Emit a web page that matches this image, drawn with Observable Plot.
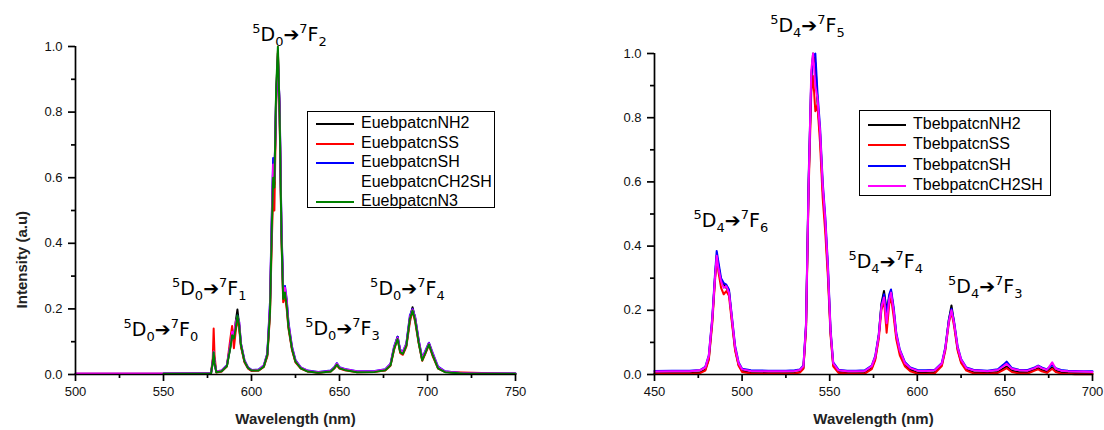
<!DOCTYPE html>
<html>
<head>
<meta charset="utf-8">
<script src="https://cdn.jsdelivr.net/npm/d3@7"></script>
<script src="https://cdn.jsdelivr.net/npm/@observablehq/plot@0.6"></script>
<style>
  html, body { margin: 0; padding: 0; background: #fff; }
  #wrap { position: relative; width: 1104px; height: 430px; display: flex; overflow: hidden; }
  .legend { position: absolute; border: 1.5px solid #000; background: #fff; font-family: "Liberation Sans", Arial, sans-serif; font-size: 16px; color: #000; }
  .legend .row { position: absolute; left: 0; height: 20px; width: 100%; }
  .legend .sw { position: absolute; left: 8px; width: 38px; top: 10px; height: 2px; }
  .legend .lab { position: absolute; left: 53px; top: 1px; white-space: nowrap; line-height: 18px; }
</style>
</head>
<body>
<div id="wrap"></div>
<script>
// ---------------- Eu panel data ----------------
const euWl = [500, 550, 570, 577, 578, 578.5, 579, 580, 583, 586, 588,
  589, 590, 591, 592, 593, 594, 596, 598, 600, 604, 607,
  609, 610.5, 611.5, 612.3, 613, 614, 615, 616, 617, 618, 619,
  620, 621, 623, 625, 628, 632, 638, 645, 647, 648.5, 650,
  653, 660, 670, 676, 679, 681, 683, 684.5, 686, 688, 690,
  691.5, 693, 695, 697, 699, 700.8, 703, 706, 710, 720, 750];
const euNH2 = [0.002, 0.002, 0.003, 0.004, 0.035, 0.062, 0.035, 0.008, 0.01, 0.026, 0.085,
  0.13, 0.11, 0.16, 0.198, 0.15, 0.09, 0.04, 0.02, 0.012, 0.013, 0.025,
  0.06, 0.2, 0.45, 0.63, 0.58, 0.86, 0.98, 0.8, 0.44, 0.24, 0.255,
  0.22, 0.15, 0.08, 0.04, 0.02, 0.01, 0.006, 0.01, 0.02, 0.032, 0.02,
  0.015, 0.008, 0.009, 0.014, 0.03, 0.08, 0.115, 0.07, 0.065, 0.09, 0.17,
  0.205, 0.17, 0.1, 0.045, 0.07, 0.095, 0.06, 0.02, 0.008, 0.003, 0.002];
const euSS = [null, 0.002, 0.002, 0.003, 0.05, 0.14, 0.06, 0.006, 0.009, 0.024, 0.11,
  0.148, 0.08, 0.13, 0.17, 0.14, 0.085, 0.037, 0.018, 0.011, 0.012, 0.023,
  0.055, 0.18, 0.4, 0.55, 0.5, 0.82, 0.985, 0.78, 0.42, 0.22, 0.24,
  0.2, 0.14, 0.075, 0.037, 0.018, 0.009, 0.005, 0.009, 0.018, 0.028, 0.018,
  0.013, 0.007, 0.008, 0.012, 0.027, 0.075, 0.11, 0.065, 0.06, 0.085, 0.16,
  0.195, 0.16, 0.095, 0.042, 0.066, 0.09, 0.055, 0.018, 0.008, 0.006, 0.002];
const euSH = [null, 0.003, 0.003, 0.004, 0.04, 0.066, 0.038, 0.009, 0.012, 0.028, 0.09,
  0.12, 0.12, 0.15, 0.18, 0.16, 0.095, 0.044, 0.022, 0.014, 0.015, 0.028,
  0.065, 0.22, 0.48, 0.66, 0.6, 0.84, 0.96, 0.82, 0.46, 0.26, 0.27,
  0.23, 0.16, 0.085, 0.044, 0.022, 0.012, 0.008, 0.012, 0.022, 0.035, 0.022,
  0.017, 0.01, 0.011, 0.016, 0.033, 0.085, 0.115, 0.075, 0.07, 0.095, 0.18,
  0.2, 0.175, 0.105, 0.05, 0.075, 0.097, 0.065, 0.024, 0.01, 0.004, 0.003];
const euCH2SH = [0.003, 0.003, 0.003, 0.004, 0.042, 0.07, 0.04, 0.009, 0.012, 0.027, 0.09,
  0.13, 0.12, 0.16, 0.175, 0.16, 0.095, 0.043, 0.021, 0.013, 0.014, 0.027,
  0.063, 0.21, 0.47, 0.64, 0.59, 0.85, 0.97, 0.81, 0.45, 0.25, 0.265,
  0.225, 0.155, 0.083, 0.042, 0.021, 0.011, 0.007, 0.011, 0.021, 0.033, 0.021,
  0.016, 0.009, 0.01, 0.015, 0.032, 0.083, 0.112, 0.073, 0.068, 0.093, 0.175,
  0.198, 0.172, 0.103, 0.048, 0.072, 0.095, 0.063, 0.022, 0.009, 0.004, 0.003];
const euN3 = [null, 0.002, 0.002, 0.003, 0.038, 0.068, 0.036, 0.007, 0.01, 0.025, 0.082,
  0.12, 0.11, 0.14, 0.18, 0.15, 0.09, 0.04, 0.02, 0.012, 0.012, 0.024,
  0.06, 0.19, 0.44, 0.6, 0.57, 0.87, 1.0, 0.79, 0.43, 0.23, 0.25,
  0.21, 0.145, 0.078, 0.039, 0.019, 0.009, 0.005, 0.009, 0.019, 0.03, 0.019,
  0.014, 0.007, 0.008, 0.013, 0.028, 0.078, 0.108, 0.068, 0.063, 0.088, 0.17,
  0.195, 0.165, 0.097, 0.043, 0.068, 0.092, 0.058, 0.019, 0.007, 0.003, 0.002];
const euNames = ["EuebpatcnNH2", "EuebpatcnSS", "EuebpatcnSH", "EuebpatcnCH2SH", "EuebpatcnN3"];
const euColors = ["#000000", "#ff0000", "#0000ff", "#ff00ff", "#008000"];
const euLegendSwatch = [true, true, true, false, true];
const euLabels = ["5D0➔7F0", "5D0➔7F1", "5D0➔7F2", "5D0➔7F3", "5D0➔7F4"];
const euLabelX = [548.5, 576, 621.6, 651.7, 688.6];
const euLabelY = [0.137, 0.262, 1.034, 0.14, 0.262];
const euXTicks = [500, 550, 600, 650, 700, 750];
const euXMinor = [525, 575, 625, 675, 725];

// ---------------- Tb panel data ----------------
const tbWl = [450, 460, 470, 476, 479, 481, 483, 484.5, 485.5, 486.5,
  488, 489.5, 491, 492.5, 494, 496, 498, 500, 505, 515,
  525, 530, 533, 535, 536.5, 538, 539.5, 540.5, 541.8, 543,
  544.5, 546, 547.5, 549, 550.5, 552, 555, 560, 565, 570,
  574, 576, 578, 579.5, 581, 582.5, 584, 585, 586.5, 588,
  590, 593, 596, 600, 605, 610, 614, 616, 618, 619.5,
  621, 623, 625, 628, 632, 640, 646, 649, 651, 654,
  658, 663, 667, 669, 671, 674, 677, 679, 682, 686,
  690, 695, 700];
const tbNH2 = [0.004, 0.004, 0.004, 0.006, 0.015, 0.05, 0.17, 0.3, 0.37, 0.34,
  0.29, 0.28, 0.27, 0.26, 0.18, 0.08, 0.03, 0.012, 0.005, 0.004,
  0.004, 0.005, 0.008, 0.02, 0.15, 0.6, 0.92, 1.0, 0.97, 0.85,
  0.75, 0.58, 0.47, 0.32, 0.13, 0.03, 0.008, 0.005, 0.004, 0.005,
  0.02, 0.05, 0.12, 0.22, 0.26, 0.2, 0.24, 0.26, 0.2, 0.12,
  0.07, 0.03, 0.015, 0.006, 0.005, 0.007, 0.03, 0.08, 0.17, 0.215,
  0.16, 0.08, 0.04, 0.015, 0.007, 0.005, 0.008, 0.018, 0.025, 0.012,
  0.007, 0.007, 0.015, 0.02, 0.014, 0.009, 0.022, 0.012, 0.007, 0.005,
  0.004, 0.003, 0.003];
const tbSS = [0.002, 0.002, 0.002, 0.004, 0.012, 0.045, 0.16, 0.29, 0.36, 0.32,
  0.27, 0.25, 0.26, 0.245, 0.17, 0.075, 0.027, 0.008, 0.003, 0.002,
  0.002, 0.003, 0.006, 0.018, 0.14, 0.58, 0.88, 0.93, 0.82, 0.84,
  0.72, 0.55, 0.44, 0.3, 0.12, 0.025, 0.005, 0.003, 0.002, 0.003,
  0.017, 0.045, 0.11, 0.2, 0.23, 0.13, 0.22, 0.24, 0.18, 0.11,
  0.06, 0.025, 0.01, 0.003, 0.002, 0.004, 0.026, 0.075, 0.16, 0.195,
  0.15, 0.075, 0.036, 0.012, 0.004, 0.002, 0.005, 0.014, 0.02, 0.008,
  0.003, 0.003, 0.012, 0.016, 0.01, 0.005, 0.018, 0.008, 0.003, 0.002,
  0.001, 0.001, 0.001];
const tbSH = [0.011, 0.012, 0.012, 0.014, 0.024, 0.06, 0.18, 0.31, 0.385, 0.35,
  0.3, 0.285, 0.28, 0.265, 0.19, 0.09, 0.038, 0.018, 0.013, 0.012,
  0.012, 0.013, 0.016, 0.028, 0.16, 0.62, 0.93, 0.99, 1.0, 0.88,
  0.77, 0.6, 0.49, 0.34, 0.14, 0.038, 0.015, 0.012, 0.012, 0.013,
  0.028, 0.058, 0.125, 0.215, 0.25, 0.19, 0.25, 0.265, 0.21, 0.13,
  0.078, 0.038, 0.022, 0.014, 0.013, 0.015, 0.036, 0.085, 0.17, 0.205,
  0.165, 0.088, 0.048, 0.022, 0.015, 0.012, 0.016, 0.03, 0.04, 0.02,
  0.015, 0.014, 0.022, 0.028, 0.022, 0.016, 0.03, 0.02, 0.014, 0.012,
  0.011, 0.01, 0.01];
const tbCH2SH = [0.009, 0.01, 0.01, 0.013, 0.022, 0.058, 0.175, 0.3, 0.37, 0.33,
  0.29, 0.27, 0.275, 0.255, 0.185, 0.085, 0.035, 0.016, 0.011, 0.01,
  0.01, 0.011, 0.014, 0.026, 0.155, 0.6, 0.95, 1.0, 0.9, 0.86,
  0.76, 0.59, 0.48, 0.33, 0.135, 0.035, 0.013, 0.01, 0.01, 0.011,
  0.026, 0.055, 0.12, 0.21, 0.24, 0.16, 0.235, 0.255, 0.2, 0.125,
  0.075, 0.035, 0.02, 0.012, 0.011, 0.013, 0.034, 0.082, 0.165, 0.2,
  0.16, 0.085, 0.046, 0.02, 0.013, 0.01, 0.014, 0.025, 0.033, 0.018,
  0.013, 0.012, 0.02, 0.026, 0.02, 0.014, 0.038, 0.018, 0.012, 0.01,
  0.009, 0.009, 0.008];
const tbNames = ["TbebpatcnNH2", "TbebpatcnSS", "TbebpatcnSH", "TbebpatcnCH2SH"];
const tbColors = ["#000000", "#ff0000", "#0000ff", "#ff00ff"];
const tbLabels = ["5D4➔7F6", "5D4➔7F5", "5D4➔7F4", "5D4➔7F3"];
const tbLabelX = [493.6, 537.3, 582, 638.8];
const tbLabelY = [0.48, 1.087, 0.352, 0.274];
const tbXTicks = [450, 500, 550, 600, 650, 700];
const tbXMinor = [475, 525, 575, 625, 675];

const yTicks = [0, 0.2, 0.4, 0.6, 0.8, 1.0];
const yMinor = [0.1, 0.3, 0.5, 0.7, 0.9];
const yTitle = "Intensity (a.u)";
const xTitle = "Wavelength (nm)";

// ---------------- helpers ----------------
function seriesRows(wl, vals) {
  return wl.map((w, i) => ({ wl: w, v: vals[i] })).filter(d => d.v != null);
}

function panel({ width, marginLeft, marginRight, marginTop, marginBottom, xDomain, xTicks, xMinor,
                 series, colors, labels, labelX, labelY, showYTitle }) {
  const marks = [];
  series.forEach((s, i) => {
    marks.push(Plot.line(s, { x: "wl", y: "v", stroke: colors[i], strokeWidth: 2, curve: "linear" }));
  });
  marks.push(
    Plot.ruleY([0], { strokeWidth: 1.7, stroke: "#000" }),
    Plot.ruleX([xDomain[0]], { y1: 0, y2: 1, strokeWidth: 1.7, stroke: "#000" }),
    Plot.axisY({ ticks: yTicks, tickFormat: d3.format(".1f"), tickSize: 7, tickPadding: 6, strokeWidth: 1.7, label: null, fontSize: 13, fill: "#111" }),
    Plot.axisY({ ticks: yMinor, tickFormat: () => "", tickSize: 4, strokeWidth: 1.7, label: null }),
    Plot.axisX({ ticks: xTicks, tickSize: 7, tickPadding: 5, strokeWidth: 1.7, label: null, fontSize: 13, fill: "#111" }),
    Plot.axisX({ ticks: xMinor, tickFormat: () => "", tickSize: 4, strokeWidth: 1.7, label: null }),
    Plot.text(labels.map((t, i) => ({ t, x: labelX[i], y: labelY[i] })), {
      x: "x", y: "y", text: "t", fontSize: 19, fontFamily: "DejaVu Sans", fill: "#000",
      textAnchor: "middle", lineAnchor: "middle"
    }),
    Plot.text([xTitle], { frameAnchor: "bottom", dy: 45, fontSize: 15, fontWeight: "bold", fill: "#222", lineAnchor: "middle" })
  );
  if (showYTitle) {
    marks.push(Plot.text([yTitle], { x: () => xDomain[0], y: () => 0.35, dx: -53, rotate: -90, fontSize: 15, fontWeight: "bold", fill: "#222", lineAnchor: "middle", textAnchor: "middle" }));
  }
  const svg = Plot.plot({
    width, height: 430, marginLeft, marginRight, marginTop, marginBottom,
    x: { domain: xDomain, label: null },
    y: { domain: [0, 1], label: null },
    style: { fontFamily: "'Liberation Sans', Arial, sans-serif", background: "#fff", color: "#000", overflow: "visible" },
    marks
  });
  // typeset spectroscopic terms: superscript / subscript digits
  const labelSet = new Set(labels);
  svg.querySelectorAll("text").forEach(el => {
    const s = el.textContent;
    if (!labelSet.has(s)) return;
    while (el.firstChild) el.removeChild(el.firstChild);
    const parts = [
      [s[0], 13, -8], [s[1], 19, 8], [s[2], 13, 5], [s[3], 19, -5],
      [s[4], 13, -8], [s[5], 19, 8], [s[6], 13, 5]
    ];
    parts.forEach(([ch, fs, dy]) => {
      const ts = document.createElementNS("http://www.w3.org/2000/svg", "tspan");
      ts.setAttribute("font-size", fs);
      ts.setAttribute("dy", dy);
      ts.textContent = ch;
      el.appendChild(ts);
    });
  });
  return svg;
}

const wrap = document.getElementById("wrap");

const euSeries = [euNH2, euSS, euSH, euCH2SH, euN3].map(v => seriesRows(euWl, v));
const left = panel({
  width: 560, marginLeft: 75, marginRight: 45, marginTop: 46, marginBottom: 56,
  xDomain: [500, 750], xTicks: euXTicks, xMinor: euXMinor,
  series: euSeries, colors: euColors, labels: euLabels, labelX: euLabelX, labelY: euLabelY, showYTitle: true
});
const tbSeries = [tbNH2, tbSS, tbSH, tbCH2SH].map(v => seriesRows(tbWl, v));
const right = panel({
  width: 544, marginLeft: 94, marginRight: 12, marginTop: 53, marginBottom: 56,
  xDomain: [450, 700], xTicks: tbXTicks, xMinor: tbXMinor,
  series: tbSeries, colors: tbColors, labels: tbLabels, labelX: tbLabelX, labelY: tbLabelY, showYTitle: false
});
wrap.appendChild(left);
wrap.appendChild(right);

function legend(names, colors, swatch, box) {
  const div = document.createElement("div");
  div.className = "legend";
  Object.assign(div.style, { left: box.left + "px", top: box.top + "px", width: box.width + "px", height: box.height + "px" });
  names.forEach((n, i) => {
    const row = document.createElement("div");
    row.className = "row";
    row.style.top = (box.rowTop + i * box.rowStep) + "px";
    if (swatch[i]) {
      const sw = document.createElement("div");
      sw.className = "sw";
      sw.style.background = colors[i];
      row.appendChild(sw);
    }
    const lab = document.createElement("div");
    lab.className = "lab";
    lab.textContent = n;
    row.appendChild(lab);
    div.appendChild(row);
  });
  wrap.appendChild(div);
}
legend(euNames, euColors, euLegendSwatch, { left: 307, top: 111, width: 186, height: 95, rowTop: 1, rowStep: 19.6 });
legend(tbNames, tbColors, [true, true, true, true], { left: 859, top: 110, width: 190, height: 84, rowTop: 3, rowStep: 20.4 });
</script>
</body>
</html>
